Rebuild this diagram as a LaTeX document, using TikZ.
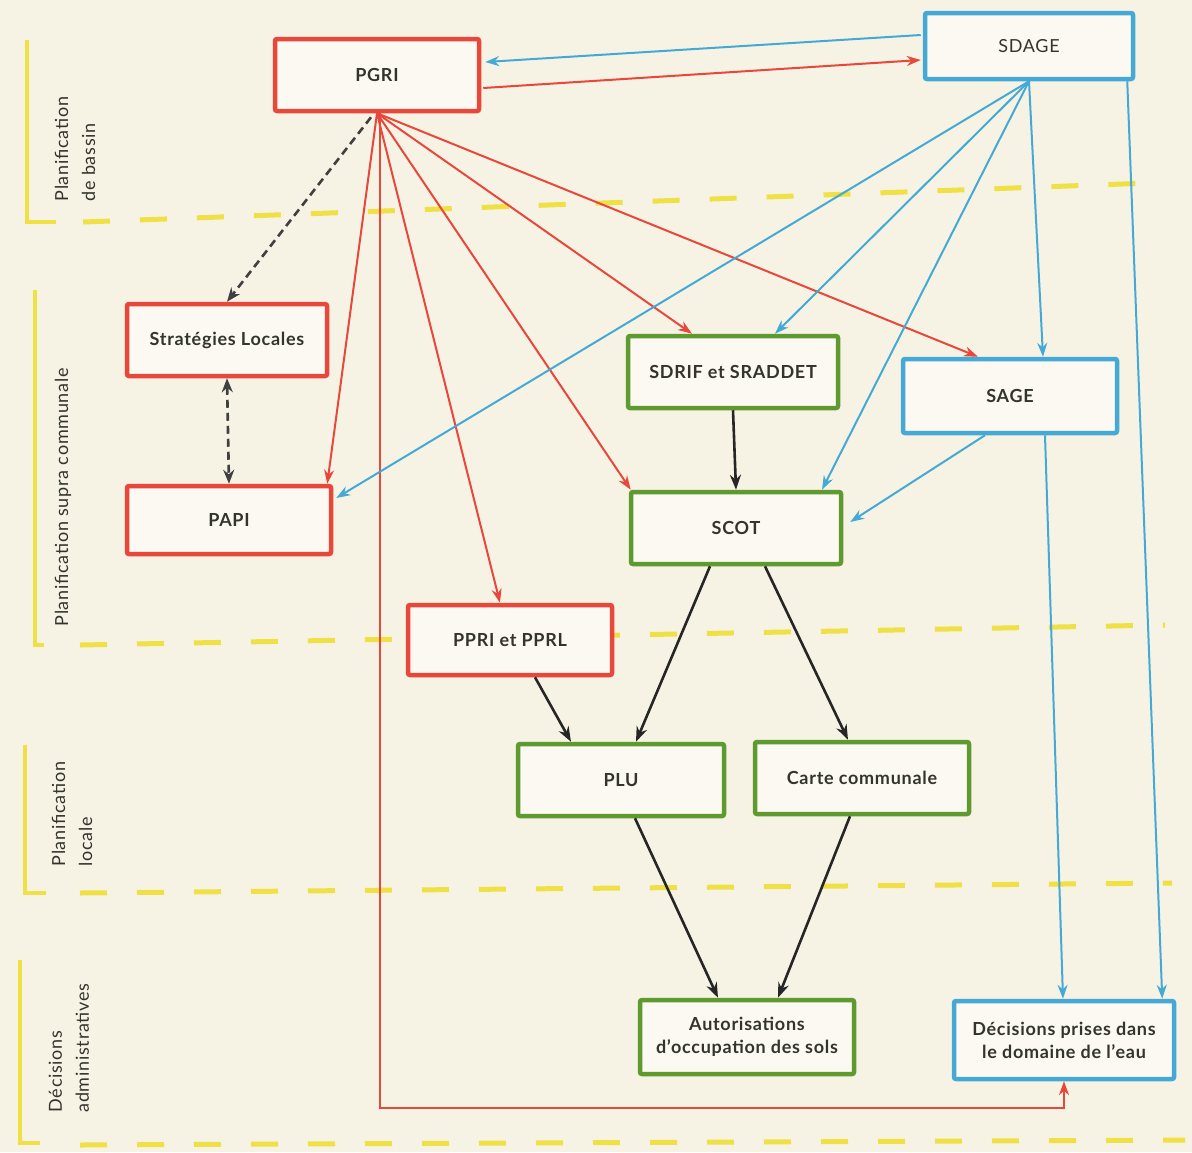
\documentclass[tikz,border=0pt]{standalone}
\usepackage{fontspec}
\setmainfont{Lato}[LetterSpace=4]
\usetikzlibrary{arrows.meta,calc}
\definecolor{bgc}{HTML}{F7F3E4}
\definecolor{boxfill}{HTML}{FBF9F1}
\definecolor{cred}{HTML}{E8473C}
\definecolor{cblue}{HTML}{45A9D6}
\definecolor{cgreen}{HTML}{5E9A30}
\definecolor{cyel}{HTML}{EEE045}
\definecolor{ctext}{HTML}{34342F}
\tikzset{
  box/.style={draw, line width=4.5pt, rounded corners=2pt, fill=boxfill,
    text=ctext, font=\fontsize{18}{23}\selectfont\bfseries, align=center,
    minimum width=#1, inner sep=2pt},
  redbox/.style={box=204pt, draw=cred},
  bluebox/.style={box=210pt, draw=cblue},
  greenbox/.style={box=210pt, draw=cgreen},
  redarr/.style={draw=cred, line width=2pt, -{Stealth[length=14pt,width=10pt]}},
  bluearr/.style={draw=cblue, line width=2pt, -{Stealth[length=14pt,width=10pt]}},
  blackarr/.style={draw=black!85, line width=2.6pt, -{Stealth[length=15pt,width=11pt]}},
  dasharr/.style={draw=black!75, line width=2.6pt, dash pattern=on 8pt off 5pt,
    -{Stealth[length=14pt,width=11pt]}},
  sidelab/.style={rotate=90, anchor=west, align=left, text=ctext,
    font=\fontsize{18}{27}\selectfont},
  yline/.style={draw=cyel, line width=4.5pt},
  ydash/.style={draw=cyel, line width=5pt, dash pattern=on 27pt off 30pt},
}
\begin{document}
\begin{tikzpicture}[x=1pt,y=-1pt]
\fill[bgc] (0,0) rectangle (1192,1152);
\useasboundingbox (0,0) rectangle (1192,1152);

% section separators
\draw[yline] (27,40) -- (27,222) -- (56,222);
\draw[ydash] (83,222) -- (1150,183);
\draw[yline] (35,290) -- (35,645) -- (44,645);
\draw[ydash] (80,645) -- (1165,625);
\draw[yline] (25,745) -- (25,893) -- (46,893);
\draw[ydash] (80,893) -- (1172,883);
\draw[yline] (20,960) -- (20,1143) -- (40,1143);
\draw[ydash] (80,1145) -- (1185,1140);

% side labels
\node[sidelab] (lab1) at (75,205) {Planification\\de bassin};
\node[sidelab] (lab2) at (63,630) {Planification supra communale};
\node[sidelab] (lab3) at (72,870) {Planification\\locale};
\node[sidelab] (lab4) at (69,1116) {Décisions\\administratives};

% nodes
\node[redbox, minimum height=72pt] (pgri) at (377,75) {PGRI};
\node[bluebox, minimum width=208pt, minimum height=66pt, font=\fontsize{18}{23}\selectfont] (sdage) at (1029,46) {SDAGE};
\node[redbox, minimum width=200pt, minimum height=72pt] (strat) at (227,340) {Stratégies Locales};
\node[redbox, minimum height=68pt] (papi) at (229,520) {PAPI};
\node[greenbox, minimum height=72pt] (sdrif) at (733,372) {SDRIF et SRADDET};
\node[bluebox, minimum width=214pt, minimum height=74pt] (sage) at (1010,396) {SAGE};
\node[greenbox, minimum height=72pt] (scot) at (736,528) {SCOT};
\node[redbox, minimum height=70pt] (ppri) at (510,640) {PPRI et PPRL};
\node[greenbox, minimum width=206pt, minimum height=72pt] (plu) at (621,780) {PLU};
\node[greenbox, minimum width=214pt, minimum height=72pt] (carte) at (862,778) {Carte communale};
\node[greenbox, minimum width=214pt, minimum height=74pt] (auto) at (747,1037) {Autorisations\\d'occupation des sols};
\node[bluebox, minimum width=220pt, minimum height=78pt] (deci) at (1064,1040) {Décisions prises dans\\le domaine de l'eau};

% PGRI <-> SDAGE
\draw[bluearr] ($(sdage.west)+(-2,-11)$) -- ($(pgri.east)+(4,-13)$);
\draw[redarr] ($(pgri.east)+(2,13)$) -- ($(sdage.west)+(-2,14)$);

% PGRI fan
\draw[dasharr] ($(pgri.south)+(-6,4)$) -- (strat.north);
\draw[redarr] (pgri.south) -- ($(papi.north east)+(-6,0)$);
\draw[redarr] (pgri.south) -- ($(ppri.north)+(-10,0)$);
\draw[redarr] (pgri.south) -- ($(scot.north west)+(2,0)$);
\draw[redarr] (pgri.south) -- ($(sdrif.north)+(-41,0)$);
\draw[redarr] (pgri.south) -- ($(sage.north)+(-32,0)$);
\draw[redarr] ($(pgri.south)+(3,0)$) |- ($(deci.south)+(0,27)$) -- (deci.south);

% SDAGE fan
\draw[bluearr] (sdage.south) -- ($(papi.east)+(3,-22)$);
\draw[bluearr] (sdage.south) -- ($(sdrif.north)+(42,0)$);
\draw[bluearr] (sdage.south) -- ($(scot.north)+(86,0)$);
\draw[bluearr] (sdage.south) -- ($(sage.north)+(33,0)$);
\draw[bluearr] ($(sdage.south east)+(-8,0)$) -- ($(deci.north east)+(-14,0)$);

% SAGE
\draw[bluearr] ($(sage.south)+(35,0)$) -- ($(deci.north)+(-1,0)$);
\draw[bluearr] ($(sage.south)+(-25,0)$) -- ($(scot.east)+(7,-6)$);

% black links
\draw[dasharr, {Stealth[length=14pt,width=11pt]}-{Stealth[length=14pt,width=11pt]}] (strat.south) -- (papi.north);
\draw[blackarr] (sdrif.south) -- (scot.north);
\draw[blackarr] ($(scot.south)+(-26,0)$) -- ($(plu.north)+(15,0)$);
\draw[blackarr] ($(scot.south)+(29,0)$) -- ($(carte.north)+(-14,0)$);
\draw[blackarr] ($(ppri.south)+(25,0)$) -- ($(plu.north)+(-50,0)$);
\draw[blackarr] ($(plu.south)+(14,0)$) -- ($(auto.north)+(-29,0)$);
\draw[blackarr] ($(carte.south)+(-12,0)$) -- ($(auto.north)+(31,0)$);
\end{tikzpicture}
\end{document}
